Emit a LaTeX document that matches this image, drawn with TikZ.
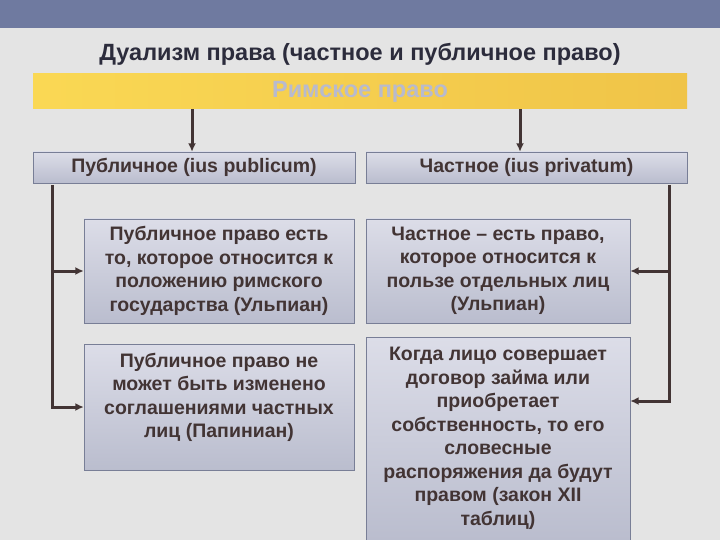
\documentclass[tikz,border=0pt]{standalone}
\usepackage{fontspec}
\setmainfont{Liberation Sans}
\usetikzlibrary{arrows.meta}
\definecolor{barblue}{RGB}{111,122,160}
\definecolor{paper}{RGB}{228,228,228}
\definecolor{ink}{RGB}{66,52,52}
\definecolor{titleink}{RGB}{44,44,60}
\definecolor{boxline}{RGB}{120,126,150}
\definecolor{boxtop}{RGB}{220,221,232}
\definecolor{boxbot}{RGB}{186,189,206}
\definecolor{gold}{RGB}{250,216,84}
\definecolor{goldr}{RGB}{240,196,72}
\definecolor{romeink}{RGB}{184,186,206}
\begin{document}
\begin{tikzpicture}[x=1pt,y=-1pt,
    box/.style={draw=boxline, top color=boxtop, bottom color=boxbot, text=ink,
      font=\bfseries\fontsize{19.5}{23.5}\selectfont, align=center, inner sep=0pt},
    link/.style={draw=ink, line width=3pt, -{Latex[length=8.5pt,width=8pt]}}]
        \useasboundingbox (0,0) rectangle (720,540);
        \fill[paper] (0,0) rectangle (720,540);
        \fill[barblue] (0,0) rectangle (720,28);

        \node[text=titleink, font=\bfseries\fontsize{23.5}{26}\selectfont] (title) at (360,54.5) {Дуализм права (частное и публичное право)};
        \node[left color=gold, right color=goldr, minimum width=654pt, minimum height=35pt, inner sep=0pt,
          text=romeink, font=\bfseries\fontsize{23.5}{26}\selectfont] (rome) at (360,91.5) {\raisebox{-2pt}{Римское право}};

        \node[box, minimum width=322pt, minimum height=31pt] (pub) at (194,167.5) {Публичное (ius publicum)};
        \node[box, minimum width=321pt, minimum height=31pt] (priv) at (526.5,167.5) {Частное (ius privatum)};

        \node[box, minimum width=270pt, minimum height=104pt] (pubA) at (219,271) {Публичное право есть\\то, которое относится к\\положению римского\\государства (Ульпиан)};
        \node[box, minimum width=270pt, minimum height=126pt] (pubB) at (219,407) {Публичное право не\\может быть изменено\\соглашениями частных\\лиц (Папиниан)\\ \mbox{}};
        \node[box, minimum width=264pt, minimum height=104pt] (privA) at (498,271) {Частное – есть право,\\которое относится к\\пользе отдельных лиц\\(Ульпиан)};
        \node[box, minimum width=264pt, minimum height=203pt] (privB) at (498,438.5) {Когда лицо совершает\\договор займа или\\приобретает\\собственность, то его\\словесные\\распоряжения да будут\\правом (закон XII\\таблиц)};

        \coordinate (lt) at (52,185);
        \coordinate (rt) at (669,185);
        \coordinate (rb) at (669,401);

        \draw[link] (rome.south -| 192,0) -- (pub.north -| 192,0);
        \draw[link] (rome.south -| 520,0) -- (priv.north -| 520,0);
        \draw[link] (lt) |- (pubB.west);
        \draw[link] (lt |- pubA.west) -- (pubA.west);
        \draw[link] (rt) -- (rb) -- (rb -| privB.east);
        \draw[link] (rt |- privA.east) -- (privA.east);
\end{tikzpicture}
\end{document}
